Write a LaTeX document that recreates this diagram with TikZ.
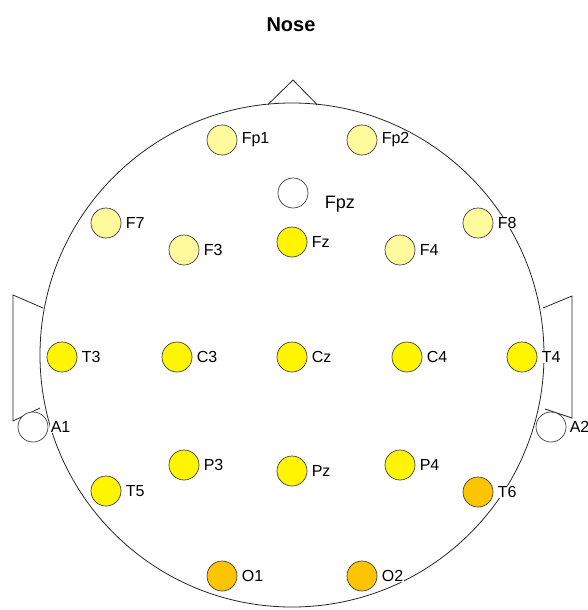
\documentclass[tikz,border=0pt]{standalone}
\usepackage{fontspec}
\setmainfont{Liberation Sans}
\definecolor{pale}{HTML}{FFFA9C}
\definecolor{yel}{HTML}{FFF500}
\definecolor{org}{HTML}{FFC400}
\begin{document}
\begin{tikzpicture}[x=1pt,y=-1pt,
  el/.style={circle,draw=black!75,line width=0.7pt,minimum size=30pt,inner sep=0pt},
  lab/.style={anchor=west,font=\fontsize{16}{16}\selectfont,fill=white,inner sep=0.6pt},
  head/.style={line width=0.8pt,draw=black!85}]
\useasboundingbox (0,0) rectangle (588,610);
\node[font=\bfseries\fontsize{20}{20}\selectfont] (nose) at (291,25) {Nose};
\coordinate (c) at (292,355);
\draw[head] (c) circle [radius=252];
% nose
\coordinate (nl) at (268,104.5);
\coordinate (na) at (293,80);
\coordinate (nr) at (317,104.5);
\draw[head] (nl) -- (na) -- (nr);
% ears
\coordinate (le1) at (43,308);
\coordinate (le2) at (13,295);
\coordinate (le3) at (13,421);
\coordinate (le4) at (40,408);
\draw[head] (le1) -- (le2) -- (le3) -- (le4);
\coordinate (re1) at (543,308);
\coordinate (re2) at (572,296);
\coordinate (re3) at (572,418);
\coordinate (re4) at (545,409);
\draw[head] (re1) -- (re2) -- (re3) -- (re4);
% electrodes
\foreach \n/\x/\y/\col in {
  Fp1/222/140/pale, Fp2/362/140/pale,
  F7/106/223/pale, F3/184/250/pale, Fz/292/242/yel, F4/400/250/pale, F8/478/223/pale,
  T3/62/357/yel, C3/177/357/yel, Cz/292/357/yel, C4/407/357/yel, T4/522/357/yel,
  P3/184/465/yel, Pz/292/471/yel, P4/400/465/yel,
  T5/106/491/yel, T6/478/492/org,
  O1/222/576/org, O2/362/576/org}{
  \node[el,fill=\col] (\n) at (\x,\y) {};
  \node[lab] (l\n) at (\x+19,\y) {\n};
}
\node[el,fill=white] (Fpz) at (293,193) {};
\node[lab,font=\fontsize{18}{18}\selectfont] (lFpz) at (324,204) {Fpz};
\node[el,fill=white] (A1) at (33,427) {};
\node[lab] (lA1) at (50,427) {A1};
\node[el,fill=white] (A2) at (551,427) {};
\node[lab,fill=none] (lA2) at (569,427) {A2};
\end{tikzpicture}
\end{document}
